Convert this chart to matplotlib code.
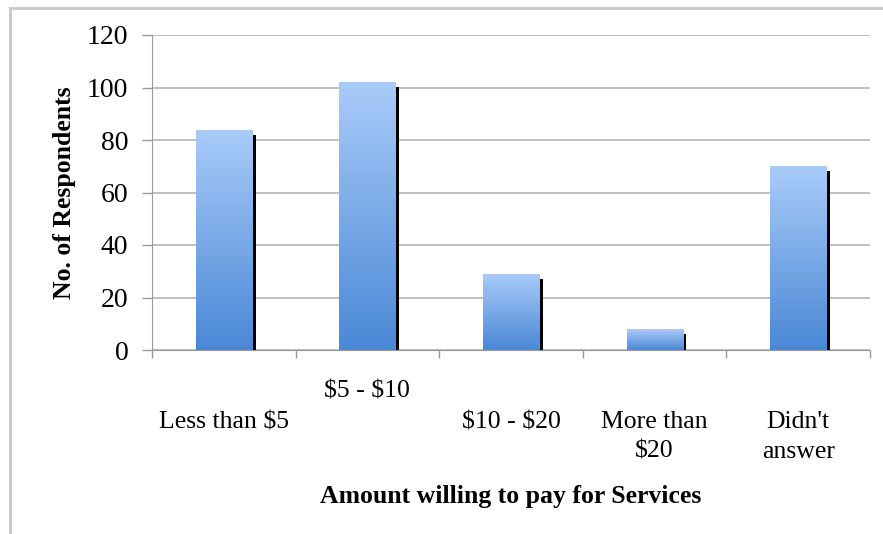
import numpy as np
import matplotlib.pyplot as plt
import matplotlib.transforms as mtransforms
from matplotlib.patches import Rectangle
from matplotlib.colors import LinearSegmentedColormap

categories = ["Less than $5", "$5 - $10", "$10 - $20", "More than\n$20", "Didn't\nanswer"]
respondents = [84, 102, 29, 8, 70]
staggered = [False, True, False, False, False]
yticks = [0, 20, 40, 60, 80, 100, 120]

plt.rcParams['font.family'] = ['Liberation Serif', 'DejaVu Serif']
plt.rcParams['text.parse_math'] = False

fig = plt.figure(figsize=(8.83, 5.34), dpi=100)
ax = fig.add_axes([152 / 883, 1 - 350 / 534, (870 - 152) / 883, (350 - 35) / 534])

# outer chart frame (only left and top edges visible)
fig.add_artist(plt.Line2D([10 / 883, 10 / 883], [0, 1 - 8 / 534], transform=fig.transFigure,
                          color='#c8c8c8', lw=2))
fig.add_artist(plt.Line2D([10 / 883, 1], [1 - 8 / 534, 1 - 8 / 534], transform=fig.transFigure,
                          color='#c8c8c8', lw=2))

x = np.arange(len(categories))
width = 0.39
cmap = LinearSegmentedColormap.from_list('blu', ['#4a88d6', '#a9cbf9'])
grad = np.linspace(0, 1, 256).reshape(-1, 1)

ax.set_xlim(-0.5, len(categories) - 0.5)
ax.set_ylim(0, 120)

# shadow offset a few pixels down
shadow_tr = ax.transData + mtransforms.ScaledTranslation(0, -5 / 100, fig.dpi_scale_trans)
for xi, v in zip(x, respondents):
    ax.bar(xi + width / 2 + 0.013, v, width=0.026, color='black', zorder=2,
           transform=shadow_tr)
    rect = Rectangle((xi - width / 2, 0), width, v, facecolor='none', edgecolor='none', zorder=3)
    ax.add_patch(rect)
    im = ax.imshow(grad, cmap=cmap, origin='lower', aspect='auto',
                   extent=[xi - width / 2, xi + width / 2, 0, v], zorder=3)
    im.set_clip_path(rect)

ax.set_xlim(-0.5, len(categories) - 0.5)
ax.set_ylim(0, 120)

ax.set_yticks(yticks)
ax.set_yticklabels([str(t) for t in yticks], fontsize=20)
ax.yaxis.grid(True, color='#b4b4b4', lw=1.2)
ax.set_axisbelow(True)
ax.tick_params(axis='y', length=7, width=1, color='#999999', pad=10)

ax.set_xticks(np.arange(len(categories) + 1) - 0.5)
ax.set_xticklabels([])
ax.tick_params(axis='x', length=6, width=1, color='#999999')

for s in ['top', 'right']:
    ax.spines[s].set_visible(False)
for s in ['left', 'bottom']:
    ax.spines[s].set_color('#999999')

lab_tr = mtransforms.blended_transform_factory(ax.transData, ax.transAxes)
for xi, lab, st in zip(x, categories, staggered):
    dy = -22 if st else -44
    ax.annotate(lab, (xi, 0), xycoords=lab_tr, xytext=(0, dy), textcoords='offset points',
                ha='center', va='top', fontsize=18.5, linespacing=1.45)

ax.set_xlabel('Amount willing to pay for Services', fontsize=18.5, fontweight='bold', labelpad=88)
ax.set_ylabel('No. of Respondents', fontsize=18.5, fontweight='bold', labelpad=8)

fig.savefig('out.png', dpi=100)
